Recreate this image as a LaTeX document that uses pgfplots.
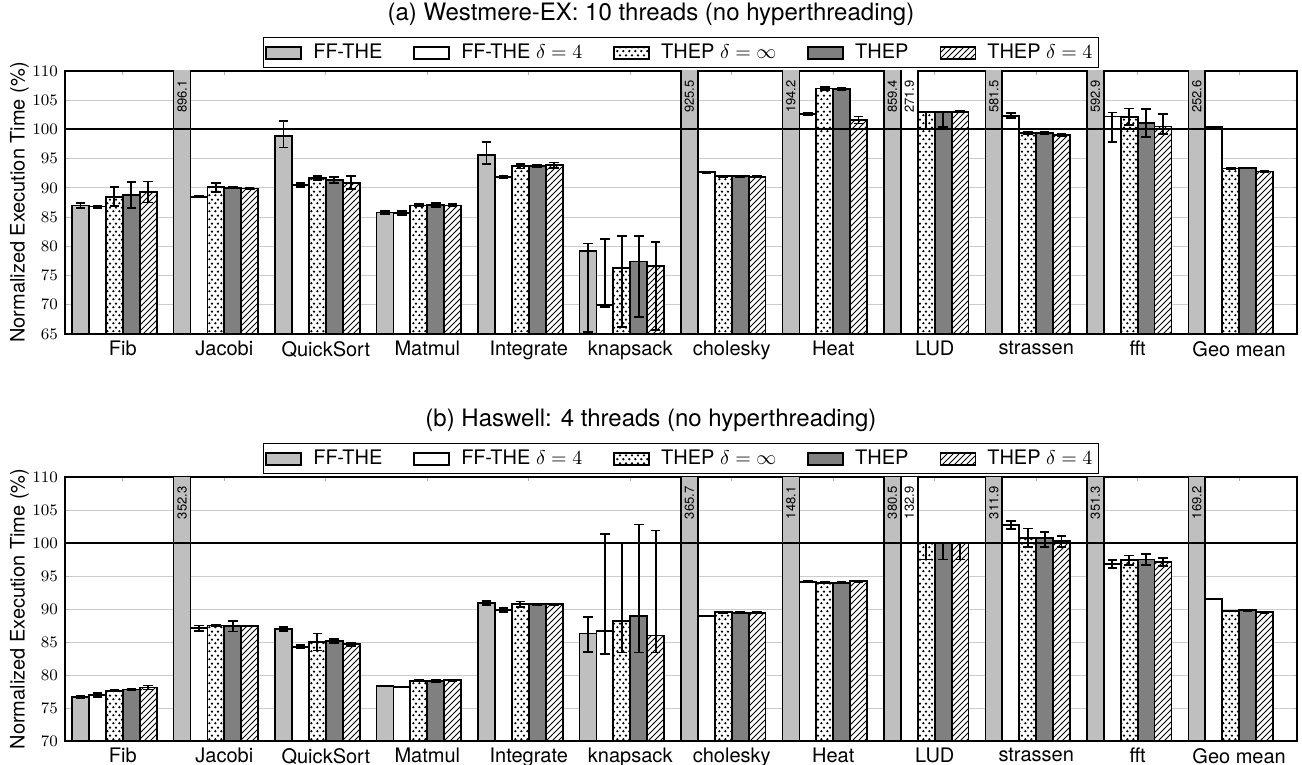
\documentclass[border=0pt]{standalone}
\usepackage{fontspec}
\setmainfont{TeX Gyre Heros}
\usepackage{pgfplots}
\pgfplotsset{compat=1.18}
\usepackage{pgfplotstable}
\usetikzlibrary{patterns}

\pgfdeclarepatternformonly{sdots}{\pgfpointorigin}{\pgfqpoint{2.8pt}{4pt}}{\pgfqpoint{2.8pt}{4pt}}{%
  \pgfpathcircle{\pgfqpoint{0.7pt}{1pt}}{0.68pt}%
  \pgfpathcircle{\pgfqpoint{2.1pt}{3pt}}{0.68pt}%
  \pgfusepath{fill}}

% columns: x, FF-THE (a), FF-THE d=4 (b), THEP d=inf (c), THEP (d), THEP d=4 (e); each value, +err, -err
\pgfplotstableread{
x a ap am b bp bm c cp cm d dp dm e ep em
0 87.0 0.4 0.4 86.8 0.2 0.2 88.5 1.6 1.6 88.8 2.2 2.2 89.3 1.8 1.8
1 896.1 0 0 88.5 0.1 0.1 90.1 0.8 0.8 90.0 0.1 0.1 89.9 0.1 0.1
2 98.9 2.5 2.0 90.5 0.4 0.4 91.7 0.3 0.3 91.3 0.5 0.5 90.9 1.1 1.1
3 85.8 0.2 0.2 85.7 0.3 0.3 87.0 0.2 0.2 87.05 0.3 0.3 87.0 0.2 0.2
4 95.6 2.2 1.5 91.8 0.2 0.2 93.7 0.4 0.4 93.7 0.2 0.2 93.85 0.5 0.5
5 79.2 1.3 13.8 69.9 11.3 0.3 76.35 5.45 10.1 77.4 4.4 9.45 76.7 4.1 11.0
6 925.5 0 0 92.7 0.1 0.1 92.0 0.1 0.1 92.0 0.1 0.1 91.9 0.1 0.1
7 194.2 0 0 102.6 0.2 0.2 107.0 0.2 0.2 106.9 0.2 0.2 101.6 0.6 0.6
8 859.4 0 0 271.9 0 0 103.0 0.05 2.9 103.0 0.05 2.6 103.0 0.1 0.1
9 581.5 0 0 102.35 0.4 0.4 99.35 0.2 0.2 99.35 0.15 0.15 99.1 0.2 0.2
10 592.9 0 0 102.2 0.7 4.3 102.1 1.5 1.3 101.05 2.45 2.4 100.5 2.1 1.3
11 252.6 0 0 100.35 0.05 0.05 93.3 0.05 0.05 93.35 0.05 0.05 92.8 0.05 0.05
}\tabA

\pgfplotstableread{
x a ap am b bp bm c cp cm d dp dm e ep em
0 76.7 0.2 0.2 76.95 0.3 0.3 77.6 0.1 0.1 77.8 0.15 0.15 78.1 0.3 0.3
1 352.3 0 0 87.1 0.4 0.4 87.5 0.1 0.1 87.4 0.8 0.8 87.4 0.05 0.05
2 87.0 0.3 0.3 84.3 0.2 0.2 85.0 1.3 1.3 85.2 0.3 0.3 84.65 0.2 0.2
3 78.3 0.05 0.05 78.2 0.05 0.05 79.15 0.1 0.1 79.1 0.1 0.1 79.2 0.1 0.1
4 90.95 0.3 0.3 89.85 0.3 0.3 90.75 0.4 0.4 90.7 0.1 0.1 90.7 0.05 0.05
5 86.3 2.5 2.8 86.7 14.7 3.5 88.2 11.8 4.8 89.0 13.8 5.6 86.0 15.9 2.6
6 365.7 0 0 88.9 0.05 0.05 89.5 0.1 0.1 89.45 0.05 0.05 89.45 0.05 0.05
7 148.1 0 0 94.15 0.05 0.05 94.0 0.05 0.05 94.0 0.05 0.05 94.2 0.05 0.05
8 380.5 0 0 132.9 0 0 100.0 0.05 2.5 100.0 0.05 2.5 100.0 0.05 2.5
9 311.9 0 0 102.7 0.6 0.6 100.8 1.4 1.4 100.7 1.0 1.3 100.25 0.8 0.8
10 351.3 0 0 96.8 0.6 0.6 97.4 0.7 0.7 97.5 0.8 0.8 97.1 0.6 0.6
11 169.2 0 0 91.55 0.05 0.05 89.7 0.05 0.05 89.8 0.05 0.05 89.5 0.05 0.05
}\tabB

% labels of the bars that leave the plot (x already at the bar centre)
\pgfplotstableread{
x y lab
0.58333 108.8 896.1
5.58333 108.8 925.5
6.58333 108.8 194.2
7.58333 108.8 859.4
7.75 108.8 271.9
8.58333 108.8 581.5
9.58333 108.8 592.9
10.58333 108.8 252.6
}\labA

\pgfplotstableread{
x y lab
0.58333 108.9 352.3
5.58333 108.9 365.7
6.58333 108.9 148.1
7.58333 108.9 380.5
7.75 108.9 132.9
8.58333 108.9 311.9
9.58333 108.9 351.3
10.58333 108.9 169.2
}\labB

\pgfplotsset{
  barbase/.style={ybar, bar width=0.16667, bar shift=0pt, draw=black, line width=0.9pt,
    error bars/y dir=both, error bars/y explicit,
    error bars/error bar style={line width=0.9pt, black, solid},
    error bars/error mark options={rotate=90, line width=0.9pt, mark size=2.4pt, black, solid}},
  sA/.style={barbase, fill=gray!50},
  sB/.style={barbase, fill=white},
  sC/.style={barbase, fill=white, postaction={pattern=sdots}},
  sD/.style={barbase, fill=gray},
  sE/.style={barbase, fill=white, postaction={pattern=north east lines}},
  labstyle/.style={only marks, mark=none, forget plot, nodes near coords,
    point meta=explicit symbolic,
    every node near coord/.append style={rotate=90, anchor=east, inner sep=1pt, font=\fontsize{6.5}{7.5}\selectfont}},
  common/.style={
    width=616pt, scale only axis, xmin=-0.57, xmax=11.57,
    xtick={0,...,11},
    xticklabels={Fib,Jacobi,QuickSort,Matmul,Integrate,knapsack,cholesky,Heat,LUD,strassen,fft,Geo mean},
    xticklabel style={font=\normalsize},
    yticklabel style={font=\footnotesize},
    ymajorgrids, major grid style={gray!40, line width=0.5pt},
    tick style={gray!60, line width=0.5pt}, major tick length=2pt,
    axis line style={black, line width=0.6pt},
    ylabel={Normalized Execution Time (\%)},
    ylabel style={at={(axis description cs:-0.0369,0.5)}, anchor=center, font=\normalsize},
    title style={at={(0.4756,1)}, anchor=base, yshift=19.2pt, font=\large},
    legend style={at={(0.5,1)}, anchor=south, yshift=1.5pt, legend columns=5,
      draw=black, line width=0.6pt, font=\normalsize, inner sep=1pt,
      nodes={inner sep=2pt},
      /tikz/every even column/.append style={column sep=13.5pt},
      /tikz/every odd column/.append style={column sep=3.5pt}},
    legend cell align=left,
    legend image code/.code={\draw[#1, line width=0.9pt] (0pt,-3pt) rectangle (17.5pt,3pt);},
  }
}

\begin{document}
\begin{tikzpicture}
\useasboundingbox (-32.5pt,-215.5pt) rectangle (618.5pt,167pt);
\begin{axis}[common, at={(0pt,0pt)}, anchor=south west, height=131.5pt,
  ymin=65, ymax=110, ytick={65,70,...,110},
  title={(a) Westmere-EX: 10 threads (no hyperthreading)}]
\addplot[sA] table[x expr=\thisrow{x}-0.41667, y=a, y error plus=ap, y error minus=am] {\tabA};
\addplot[sB] table[x expr=\thisrow{x}-0.25, y=b, y error plus=bp, y error minus=bm] {\tabA};
\addplot[sC] table[x expr=\thisrow{x}-0.08333, y=c, y error plus=cp, y error minus=cm] {\tabA};
\addplot[sD] table[x expr=\thisrow{x}+0.08333, y=d, y error plus=dp, y error minus=dm] {\tabA};
\addplot[sE] table[x expr=\thisrow{x}+0.25, y=e, y error plus=ep, y error minus=em] {\tabA};
\addplot[black, line width=1pt, forget plot] coordinates {(-0.57,100) (11.57,100)};
\addplot[labstyle] table[x=x, y=y, meta=lab] {\labA};
\legend{FF-THE, FF-THE $\delta=4$, THEP $\delta=\infty$, THEP, THEP $\delta=4$}
\end{axis}
\begin{axis}[common, at={(0pt,-203.5pt)}, anchor=south west, height=132pt,
  ymin=70, ymax=110, ytick={70,75,...,110},
  title={(b) Haswell: 4 threads (no hyperthreading)}]
\addplot[sA] table[x expr=\thisrow{x}-0.41667, y=a, y error plus=ap, y error minus=am] {\tabB};
\addplot[sB] table[x expr=\thisrow{x}-0.25, y=b, y error plus=bp, y error minus=bm] {\tabB};
\addplot[sC] table[x expr=\thisrow{x}-0.08333, y=c, y error plus=cp, y error minus=cm] {\tabB};
\addplot[sD] table[x expr=\thisrow{x}+0.08333, y=d, y error plus=dp, y error minus=dm] {\tabB};
\addplot[sE] table[x expr=\thisrow{x}+0.25, y=e, y error plus=ep, y error minus=em] {\tabB};
\addplot[black, line width=1pt, forget plot] coordinates {(-0.57,100) (11.57,100)};
\addplot[labstyle] table[x=x, y=y, meta=lab] {\labB};
\legend{FF-THE, FF-THE $\delta=4$, THEP $\delta=\infty$, THEP, THEP $\delta=4$}
\end{axis}
\end{tikzpicture}
\end{document}
